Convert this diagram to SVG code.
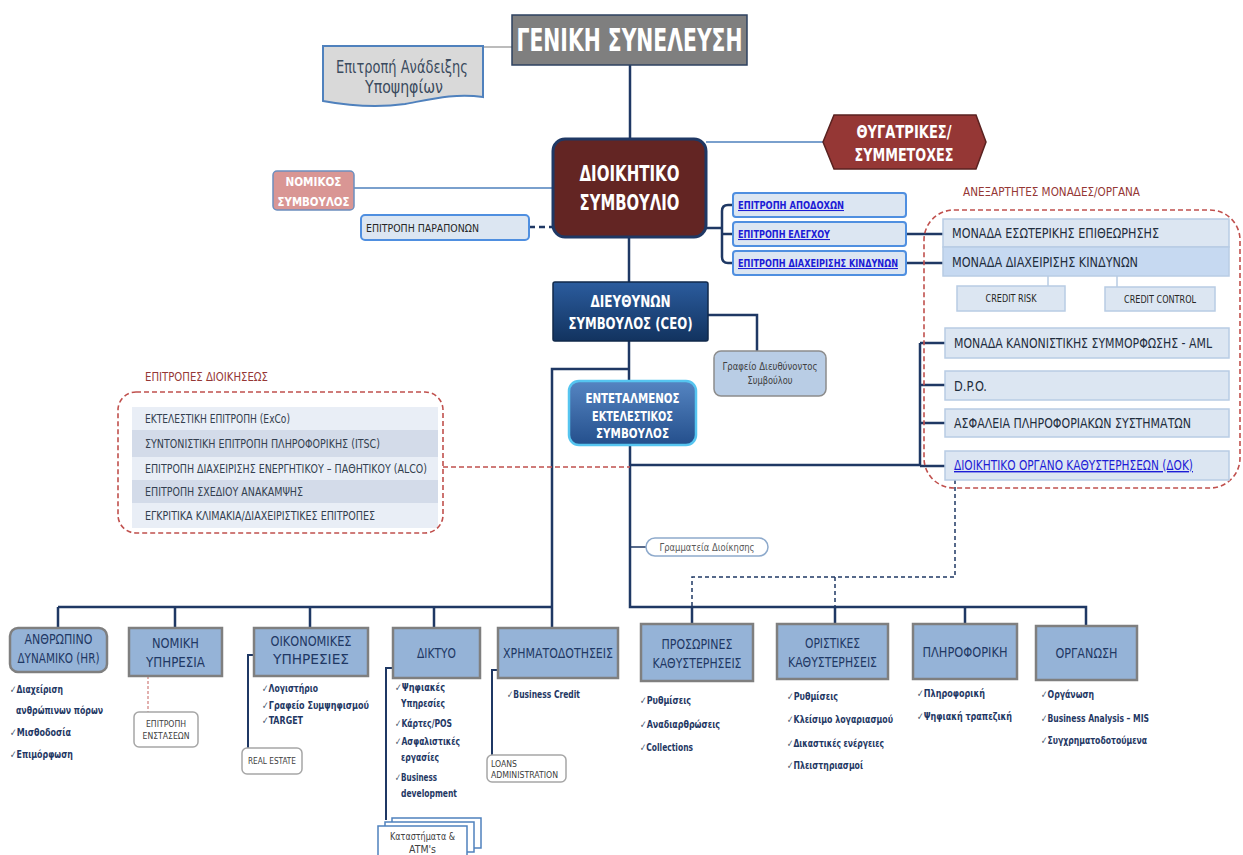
<svg xmlns="http://www.w3.org/2000/svg" width="1243" height="855" viewBox="0 0 1243 855">
<defs>
<linearGradient id="ceoGrad" x1="0" y1="0" x2="0" y2="1"><stop offset="0" stop-color="#2b5c9e"/><stop offset="1" stop-color="#12335f"/></linearGradient>
<linearGradient id="esaGrad" x1="0" y1="0" x2="0" y2="1"><stop offset="0" stop-color="#5585c2"/><stop offset="1" stop-color="#244f8c"/></linearGradient>
<style>
text{font-family:"Liberation Sans Narrow","DejaVu Sans Condensed","Liberation Sans",sans-serif;}
.conn{stroke:#1f3864;stroke-width:2.5;fill:none;}
.sub{stroke:#1f3864;stroke-width:2;fill:none;}
.thinb{stroke:#4f81bd;stroke-width:1.5;fill:none;}
.dnavy{stroke:#1f3864;stroke-width:1.5;stroke-dasharray:4 3;fill:none;}
.dred{stroke:#c0504d;stroke-width:1.6;stroke-dasharray:5 3;fill:none;}
.dept{fill:#95b3d7;stroke:#7f7f7f;stroke-width:2.5;}
.dt{fill:#1f3864;text-anchor:middle;font-size:14px;}
.bl{fill:#1f3864;font-size:10.5px;font-weight:bold;}
.ck{font-weight:normal;fill:#4a5a70;}
.wb{fill:#ffffff;font-weight:bold;text-anchor:middle;}
.com{fill:#dce6f2;stroke:#4f8fe0;stroke-width:2;}
.link{fill:#1c1cd6;font-size:10.5px;font-weight:bold;text-decoration:underline;}
.unit{fill:#dce6f2;stroke:#b8cce4;stroke-width:1.5;}
.ut{fill:#1f2d3d;font-size:14px;}
.row1{fill:#e9eef6;}
.row2{fill:#d3dbe9;}
.rt{fill:#333f4f;font-size:12px;}
.sb{fill:#ffffff;stroke:#a6a6a6;stroke-width:1.5;}
.st{fill:#404040;font-size:9.5px;}
.lbl{fill:#953735;font-size:12.5px;}
</style>
</defs>
<rect width="1243" height="855" fill="#ffffff"/>

<g id="connectors">
<path class="conn" d="M630,65 V139"/>
<path class="conn" d="M629,237 V282"/>
<path class="conn" d="M629,341 V381"/>
<path class="conn" d="M629,369 H552 V628"/>
<path class="conn" d="M630,445 V607 H1086 V626"/>
<path class="conn" d="M58,607 H552"/>
<path class="conn" d="M58,607 V628 M175,607 V628 M310,607 V628 M434,607 V628"/>
<path class="conn" d="M692,607 V624 M835,607 V624 M965,607 V624"/>
<path class="conn" d="M706,228 H722"/>
<path class="conn" d="M733,205 H728 Q722,205 722,211 V257 Q722,263 728,263 H733 M722,234 H733"/>
<path class="conn" d="M906,234 H943 M906,263 H943"/>
<path class="conn" d="M630,465 H920 M920,343 V466 M920,343 H945 M920,385 H945 M920,423 H945 M920,466 H945"/>
<path class="conn" d="M708,315 H757 V351"/>
<path stroke="#1f3864" stroke-width="1.5" d="M630,547 H646"/>
<path stroke="#a6a6a6" stroke-width="1.5" d="M483,47 H512"/>
<path class="thinb" d="M354,188 H553 M706,142 H823"/>
<path class="conn" stroke-dasharray="6 4" d="M529,227 H553"/>
<path stroke="#b8cce4" stroke-width="1.5" d="M1048,276 V286 M1117,276 V287"/>
<path class="dred" d="M443,467 H630"/>
<path class="dnavy" d="M955,480 V577 H692 V607 M835,577 V607"/>
<path stroke="#d99694" stroke-width="1.5" stroke-dasharray="3 2" d="M148,676 V712"/>
<path class="sub" d="M254,655 H248 V748"/>
<path class="sub" d="M393,668 H386 V820"/>
<path class="sub" d="M498,670 H492 V755"/>
</g>

<g id="geniki">
<rect x="512" y="15" width="235" height="50" fill="#7f7f7f" stroke="#2e4260" stroke-width="1.5"/>
<text class="wb" x="629.5" y="51" font-size="31" textLength="226" lengthAdjust="spacingAndGlyphs">ΓΕΝΙΚΗ ΣΥΝΕΛΕΥΣΗ</text>
</g>

<g id="anadeixi">
<path d="M323,46 H483 V97 C455,93 432,99 405,104 C378,108 350,106 323,101 Z" fill="#d9d9d9" stroke="#4f81bd" stroke-width="2"/>
<text x="402" y="73" fill="#3b4b5e" font-size="17" text-anchor="middle" textLength="132" lengthAdjust="spacingAndGlyphs">Επιτροπή Ανάδειξης</text>
<text x="404" y="93" fill="#3b4b5e" font-size="17" text-anchor="middle" textLength="78" lengthAdjust="spacingAndGlyphs">Υποψηφίων</text>
</g>

<g id="ds">
<rect x="553" y="139" width="153" height="98" rx="12" fill="#632523" stroke="#1f3864" stroke-width="3"/>
<text class="wb" x="629.5" y="181" font-size="22" textLength="100" lengthAdjust="spacingAndGlyphs">ΔΙΟΙΚΗΤΙΚΟ</text>
<text class="wb" x="629.5" y="210" font-size="22" textLength="100" lengthAdjust="spacingAndGlyphs">ΣΥΜΒΟΥΛΙΟ</text>
</g>

<g id="thygatrikes">
<polygon points="823,142 834,115 976,115 986,142 976,169 834,169" fill="#953735" stroke="#5a2220" stroke-width="1.5"/>
<text class="wb" x="904" y="138" font-size="17" textLength="95" lengthAdjust="spacingAndGlyphs">ΘΥΓΑΤΡΙΚΕΣ/</text>
<text class="wb" x="904" y="161" font-size="17" textLength="99" lengthAdjust="spacingAndGlyphs">ΣΥΜΜΕΤΟΧΕΣ</text>
</g>

<g id="nomikos">
<rect x="273" y="171" width="81" height="39" rx="4" fill="#d99694" stroke="#6c8ebf" stroke-width="1.5"/>
<text class="wb" x="313.5" y="186" font-size="12" textLength="56" lengthAdjust="spacingAndGlyphs">ΝΟΜΙΚΟΣ</text>
<text class="wb" x="313.5" y="206" font-size="12" textLength="72" lengthAdjust="spacingAndGlyphs">ΣΥΜΒΟΥΛΟΣ</text>
</g>

<g id="parapono">
<rect class="com" x="361" y="215" width="168" height="25" rx="4"/>
<text x="366" y="232" fill="#262626" font-size="10.5" textLength="113" lengthAdjust="spacingAndGlyphs">ΕΠΙΤΡΟΠΗ ΠΑΡΑΠΟΝΩΝ</text>
</g>

<g id="apodoxon">
<rect class="com" x="733" y="193" width="173" height="24" rx="3"/>
<text class="link" x="738" y="209" textLength="106" lengthAdjust="spacingAndGlyphs">ΕΠΙΤΡΟΠΗ ΑΠΟΔΟΧΩΝ</text>
</g>
<g id="elegxou">
<rect class="com" x="733" y="222" width="173" height="24" rx="3"/>
<text class="link" x="738" y="238" textLength="92" lengthAdjust="spacingAndGlyphs">ΕΠΙΤΡΟΠΗ ΕΛΕΓΧΟΥ</text>
</g>
<g id="kindynon">
<rect class="com" x="733" y="251" width="173" height="24" rx="3"/>
<text class="link" x="738" y="267" textLength="160" lengthAdjust="spacingAndGlyphs">ΕΠΙΤΡΟΠΗ ΔΙΑΧΕΙΡΙΣΗΣ ΚΙΝΔΥΝΩΝ</text>
</g>

<g id="anexartites">
<text class="lbl" x="963" y="196" textLength="177" lengthAdjust="spacingAndGlyphs">ΑΝΕΞΑΡΤΗΤΕΣ ΜΟΝΑΔΕΣ/ΟΡΓΑΝΑ</text>
<rect class="dred" x="924" y="210" width="316" height="278" rx="30"/>
</g>
<g id="esoterikis">
<rect class="unit" x="943" y="219" width="286" height="28"/>
<text class="ut" x="952" y="238" textLength="207" lengthAdjust="spacingAndGlyphs">ΜΟΝΑΔΑ ΕΣΩΤΕΡΙΚΗΣ ΕΠΙΘΕΩΡΗΣΗΣ</text>
</g>
<g id="diaxeirisis">
<rect x="943" y="247" width="286" height="29" fill="#c6d9f1" stroke="#b8cce4" stroke-width="1.5"/>
<text class="ut" x="952" y="267" textLength="186" lengthAdjust="spacingAndGlyphs">ΜΟΝΑΔΑ ΔΙΑΧΕΙΡΙΣΗΣ ΚΙΝΔΥΝΩΝ</text>
</g>
<g id="creditrisk">
<rect class="unit" x="957" y="286" width="108" height="25"/>
<text x="1011" y="302" fill="#262626" font-size="10" text-anchor="middle" textLength="51" lengthAdjust="spacingAndGlyphs">CREDIT RISK</text>
</g>
<g id="creditcontrol">
<rect class="unit" x="1105" y="287" width="110" height="24"/>
<text x="1160" y="303" fill="#262626" font-size="10" text-anchor="middle" textLength="72" lengthAdjust="spacingAndGlyphs">CREDIT CONTROL</text>
</g>
<g id="aml">
<rect class="unit" x="945" y="328" width="284" height="30"/>
<text class="ut" x="954" y="348" font-size="12.5" textLength="258" lengthAdjust="spacingAndGlyphs">ΜΟΝΑΔΑ ΚΑΝΟΝΙΣΤΙΚΗΣ ΣΥΜΜΟΡΦΩΣΗΣ - AML</text>
</g>
<g id="dpo">
<rect class="unit" x="945" y="371" width="284" height="29"/>
<text class="ut" x="954" y="391" textLength="33" lengthAdjust="spacingAndGlyphs">D.P.O.</text>
</g>
<g id="asfaleia">
<rect class="unit" x="945" y="409" width="284" height="28"/>
<text class="ut" x="954" y="428" textLength="237" lengthAdjust="spacingAndGlyphs">ΑΣΦΑΛΕΙΑ ΠΛΗΡΟΦΟΡΙΑΚΩΝ ΣΥΣΤΗΜΑΤΩΝ</text>
</g>
<g id="dok">
<rect class="unit" x="945" y="451" width="284" height="29"/>
<text x="954" y="470" fill="#1c1cd6" font-size="14" text-decoration="underline" textLength="239" lengthAdjust="spacingAndGlyphs">ΔΙΟΙΚΗΤΙΚΟ ΟΡΓΑΝΟ ΚΑΘΥΣΤΕΡΗΣΕΩΝ (ΔΟΚ)</text>
</g>

<g id="epitropes-dioikiseos">
<text class="lbl" x="145" y="381" font-size="12" textLength="123" lengthAdjust="spacingAndGlyphs">ΕΠΙΤΡΟΠΕΣ ΔΙΟΙΚΗΣΕΩΣ</text>
<rect class="row1" x="132" y="407" width="306" height="23"/>
<rect class="row2" x="132" y="430" width="306" height="27"/>
<rect class="row1" x="132" y="457" width="306" height="23"/>
<rect class="row2" x="132" y="480" width="306" height="23"/>
<rect class="row1" x="132" y="503" width="306" height="25"/>
<text class="rt" x="145" y="423" textLength="145" lengthAdjust="spacingAndGlyphs">ΕΚΤΕΛΕΣΤΙΚΗ ΕΠΙΤΡΟΠΗ (ExCo)</text>
<text class="rt" x="145" y="448" textLength="235" lengthAdjust="spacingAndGlyphs">ΣΥΝΤΟΝΙΣΤΙΚΗ ΕΠΙΤΡΟΠΗ ΠΛΗΡΟΦΟΡΙΚΗΣ (ITSC)</text>
<text class="rt" x="145" y="473" textLength="282" lengthAdjust="spacingAndGlyphs">ΕΠΙΤΡΟΠΗ ΔΙΑΧΕΙΡΙΣΗΣ ΕΝΕΡΓΗΤΙΚΟΥ – ΠΑΘΗΤΙΚΟΥ (ALCO)</text>
<text class="rt" x="145" y="496" textLength="158" lengthAdjust="spacingAndGlyphs">ΕΠΙΤΡΟΠΗ ΣΧΕΔΙΟΥ ΑΝΑΚΑΜΨΗΣ</text>
<text class="rt" x="145" y="520" textLength="230" lengthAdjust="spacingAndGlyphs">ΕΓΚΡΙΤΙΚΑ ΚΛΙΜΑΚΙΑ/ΔΙΑΧΕΙΡΙΣΤΙΚΕΣ ΕΠΙΤΡΟΠΕΣ</text>
<rect class="dred" x="118" y="392" width="325" height="141" rx="18"/>
</g>

<g id="ceo">
<rect x="553" y="282" width="155" height="59" rx="2" fill="url(#ceoGrad)" stroke="#10284a" stroke-width="1.5"/>
<text class="wb" x="630.5" y="307" font-size="16" textLength="80" lengthAdjust="spacingAndGlyphs">ΔΙΕΥΘΥΝΩΝ</text>
<text class="wb" x="630.5" y="329" font-size="16" textLength="124" lengthAdjust="spacingAndGlyphs">ΣΥΜΒΟΥΛΟΣ (CEO)</text>
</g>

<g id="grafeio">
<rect x="714" y="351" width="112" height="45" rx="7" fill="#b9cde5" stroke="#8c8c8c" stroke-width="1.5"/>
<text x="770" y="370" fill="#404040" font-size="11" text-anchor="middle" textLength="95" lengthAdjust="spacingAndGlyphs">Γραφείο Διευθύνοντος</text>
<text x="770" y="384" fill="#404040" font-size="11" text-anchor="middle" textLength="45" lengthAdjust="spacingAndGlyphs">Συμβούλου</text>
</g>

<g id="esa">
<rect x="569" y="381" width="127" height="64" rx="10" fill="url(#esaGrad)" stroke="#56c5f0" stroke-width="2.5"/>
<text class="wb" x="632.5" y="403" font-size="14" textLength="94" lengthAdjust="spacingAndGlyphs">ΕΝΤΕΤΑΛΜΕΝΟΣ</text>
<text class="wb" x="632.5" y="421" font-size="14" textLength="81" lengthAdjust="spacingAndGlyphs">ΕΚΤΕΛΕΣΤΙΚΟΣ</text>
<text class="wb" x="632.5" y="438" font-size="14" textLength="73" lengthAdjust="spacingAndGlyphs">ΣΥΜΒΟΥΛΟΣ</text>
</g>

<g id="grammateia">
<rect x="646" y="538" width="122" height="18" rx="9" fill="#ffffff" stroke="#8eaacc" stroke-width="1.5"/>
<text x="707" y="551" fill="#595959" font-size="11" text-anchor="middle" textLength="95" lengthAdjust="spacingAndGlyphs">Γραμματεία Διοίκησης</text>
</g>

<g id="hr">
<rect class="dept" x="10" y="628" width="97" height="44" rx="8"/>
<text class="dt" x="58.5" y="644" font-size="13" textLength="68" lengthAdjust="spacingAndGlyphs">ΑΝΘΡΩΠΙΝΟ</text>
<text class="dt" x="58.5" y="663" font-size="13" textLength="82" lengthAdjust="spacingAndGlyphs">ΔΥΝΑΜΙΚΟ (HR)</text>
<text class="bl" x="10" y="693" textLength="53" lengthAdjust="spacingAndGlyphs"><tspan class="ck">✓</tspan>Διαχείριση</text>
<text class="bl" x="16" y="714" textLength="87" lengthAdjust="spacingAndGlyphs">ανθρώπινων πόρων</text>
<text class="bl" x="10" y="736" textLength="61" lengthAdjust="spacingAndGlyphs"><tspan class="ck">✓</tspan>Μισθοδοσία</text>
<text class="bl" x="10" y="758" textLength="63" lengthAdjust="spacingAndGlyphs"><tspan class="ck">✓</tspan>Επιμόρφωση</text>
</g>

<g id="nomiki">
<rect class="dept" x="129" y="628" width="93" height="48"/>
<text class="dt" x="175.5" y="648" font-size="15" textLength="47" lengthAdjust="spacingAndGlyphs">ΝΟΜΙΚΗ</text>
<text class="dt" x="175.5" y="667" font-size="15" textLength="59" lengthAdjust="spacingAndGlyphs">ΥΠΗΡΕΣΙΑ</text>
</g>
<g id="enstaseon">
<rect class="sb" x="134" y="712" width="64" height="35" rx="5"/>
<text class="st" x="166" y="727" text-anchor="middle" textLength="40" lengthAdjust="spacingAndGlyphs">ΕΠΙΤΡΟΠΗ</text>
<text class="st" x="166" y="739" text-anchor="middle" textLength="47" lengthAdjust="spacingAndGlyphs">ΕΝΣΤΑΣΕΩΝ</text>
</g>

<g id="oikonomikes">
<rect class="dept" x="254" y="628" width="114" height="48"/>
<text class="dt" x="311" y="646" textLength="81" lengthAdjust="spacingAndGlyphs">ΟΙΚΟΝΟΜΙΚΕΣ</text>
<text class="dt" x="311" y="664" textLength="76" lengthAdjust="spacingAndGlyphs">ΥΠΗΡΕΣΙΕΣ</text>
<text class="bl" x="262" y="692" textLength="56" lengthAdjust="spacingAndGlyphs"><tspan class="ck">✓</tspan>Λογιστήριο</text>
<text class="bl" x="262" y="709" textLength="107" lengthAdjust="spacingAndGlyphs"><tspan class="ck">✓</tspan>Γραφείο Συμψηφισμού</text>
<text class="bl" x="262" y="724" textLength="41" lengthAdjust="spacingAndGlyphs"><tspan class="ck">✓</tspan>TARGET</text>
</g>
<g id="realestate">
<rect class="sb" x="242" y="748" width="60" height="26" rx="5"/>
<text class="st" x="272" y="764" text-anchor="middle" textLength="48" lengthAdjust="spacingAndGlyphs">REAL ESTATE</text>
</g>

<g id="diktyo">
<rect class="dept" x="393" y="628" width="87" height="50"/>
<text class="dt" x="436.5" y="658" font-size="13" textLength="39" lengthAdjust="spacingAndGlyphs">ΔΙΚΤΥΟ</text>
<text class="bl" x="395" y="691" textLength="50" lengthAdjust="spacingAndGlyphs"><tspan class="ck">✓</tspan>Ψηφιακές</text>
<text class="bl" x="401" y="707" textLength="44" lengthAdjust="spacingAndGlyphs">Υπηρεσίες</text>
<text class="bl" x="395" y="727" textLength="57" lengthAdjust="spacingAndGlyphs"><tspan class="ck">✓</tspan>Κάρτες/POS</text>
<text class="bl" x="395" y="745" textLength="65" lengthAdjust="spacingAndGlyphs"><tspan class="ck">✓</tspan>Ασφαλιστικές</text>
<text class="bl" x="401" y="761" textLength="38" lengthAdjust="spacingAndGlyphs">εργασίες</text>
<text class="bl" x="395" y="781" textLength="42" lengthAdjust="spacingAndGlyphs"><tspan class="ck">✓</tspan>Business</text>
<text class="bl" x="401" y="797" textLength="56" lengthAdjust="spacingAndGlyphs">development</text>
</g>
<g id="katastimata">
<rect x="392" y="818" width="89" height="30" fill="#ffffff" stroke="#4f81bd" stroke-width="1.5"/>
<rect x="385" y="822" width="89" height="30" fill="#ffffff" stroke="#4f81bd" stroke-width="1.5"/>
<rect x="378" y="826" width="89" height="34" fill="#ffffff" stroke="#4f81bd" stroke-width="1.5"/>
<text x="422.5" y="840" fill="#404040" font-size="11" text-anchor="middle" textLength="65" lengthAdjust="spacingAndGlyphs">Καταστήματα &amp;</text>
<text x="422.5" y="853" fill="#404040" font-size="11" text-anchor="middle" textLength="27" lengthAdjust="spacingAndGlyphs">ATM's</text>
</g>

<g id="xrimatodotiseis">
<rect class="dept" x="498" y="628" width="120" height="50"/>
<text class="dt" x="558" y="658" textLength="110" lengthAdjust="spacingAndGlyphs">ΧΡΗΜΑΤΟΔΟΤΗΣΕΙΣ</text>
<text class="bl" x="507" y="698" textLength="73" lengthAdjust="spacingAndGlyphs"><tspan class="ck">✓</tspan>Business Credit</text>
</g>
<g id="loans">
<rect class="sb" x="487" y="755" width="79" height="27" rx="5"/>
<text class="st" x="491" y="767" textLength="26" lengthAdjust="spacingAndGlyphs">LOANS</text>
<text class="st" x="491" y="778" textLength="67" lengthAdjust="spacingAndGlyphs">ADMINISTRATION</text>
</g>

<g id="prosorines">
<rect class="dept" x="641" y="624" width="112" height="57"/>
<text class="dt" x="697" y="649" textLength="71" lengthAdjust="spacingAndGlyphs">ΠΡΟΣΩΡΙΝΕΣ</text>
<text class="dt" x="697" y="668" textLength="89" lengthAdjust="spacingAndGlyphs">ΚΑΘΥΣΤΕΡΗΣΕΙΣ</text>
<text class="bl" x="640" y="704" textLength="51" lengthAdjust="spacingAndGlyphs"><tspan class="ck">✓</tspan>Ρυθμίσεις</text>
<text class="bl" x="640" y="728" textLength="80" lengthAdjust="spacingAndGlyphs"><tspan class="ck">✓</tspan>Αναδιαρθρώσεις</text>
<text class="bl" x="640" y="751" textLength="53" lengthAdjust="spacingAndGlyphs"><tspan class="ck">✓</tspan>Collections</text>
</g>

<g id="oristikes">
<rect class="dept" x="777" y="624" width="111" height="55"/>
<text class="dt" x="832.5" y="648" textLength="55" lengthAdjust="spacingAndGlyphs">ΟΡΙΣΤΙΚΕΣ</text>
<text class="dt" x="832.5" y="667" textLength="89" lengthAdjust="spacingAndGlyphs">ΚΑΘΥΣΤΕΡΗΣΕΙΣ</text>
<text class="bl" x="787" y="700" textLength="51" lengthAdjust="spacingAndGlyphs"><tspan class="ck">✓</tspan>Ρυθμίσεις</text>
<text class="bl" x="787" y="723" textLength="106" lengthAdjust="spacingAndGlyphs"><tspan class="ck">✓</tspan>Κλείσιμο λογαριασμού</text>
<text class="bl" x="787" y="747" textLength="97" lengthAdjust="spacingAndGlyphs"><tspan class="ck">✓</tspan>Δικαστικές ενέργειες</text>
<text class="bl" x="787" y="769" textLength="76" lengthAdjust="spacingAndGlyphs"><tspan class="ck">✓</tspan>Πλειστηριασμοί</text>
</g>

<g id="pliroforiki">
<rect class="dept" x="913" y="624" width="104" height="55"/>
<text class="dt" x="965" y="657" textLength="85" lengthAdjust="spacingAndGlyphs">ΠΛΗΡΟΦΟΡΙΚΗ</text>
<text class="bl" x="917" y="697" textLength="68" lengthAdjust="spacingAndGlyphs"><tspan class="ck">✓</tspan>Πληροφορική</text>
<text class="bl" x="917" y="720" textLength="95" lengthAdjust="spacingAndGlyphs"><tspan class="ck">✓</tspan>Ψηφιακή τραπεζική</text>
</g>

<g id="organosi">
<rect class="dept" x="1036" y="626" width="101" height="54"/>
<text class="dt" x="1086.5" y="658" textLength="62" lengthAdjust="spacingAndGlyphs">ΟΡΓΑΝΩΣΗ</text>
<text class="bl" x="1041" y="698" textLength="53" lengthAdjust="spacingAndGlyphs"><tspan class="ck">✓</tspan>Οργάνωση</text>
<text class="bl" x="1041" y="722" textLength="108" lengthAdjust="spacingAndGlyphs"><tspan class="ck">✓</tspan>Business Analysis – MIS</text>
<text class="bl" x="1041" y="744" textLength="106" lengthAdjust="spacingAndGlyphs"><tspan class="ck">✓</tspan>Συγχρηματοδοτούμενα</text>
</g>
</svg>
